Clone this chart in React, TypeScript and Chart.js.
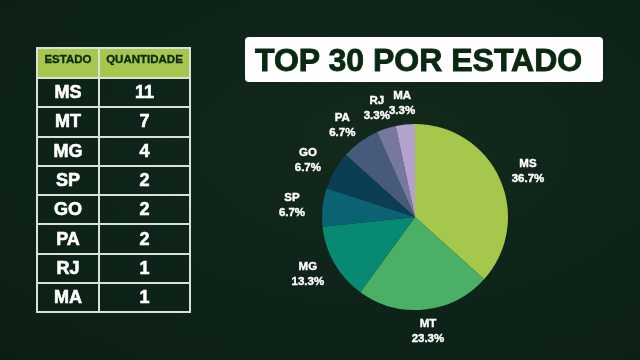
import React, { useEffect, useRef } from "react";
import { Chart, registerables } from "chart.js";

Chart.register(...registerables);

const titulo = "TOP 30 POR ESTADO";
const cabecalho = ["ESTADO", "QUANTIDADE"];
const estados = ["MS", "MT", "MG", "SP", "GO", "PA", "RJ", "MA"];
const quantidades = [11, 7, 4, 2, 2, 2, 1, 1];
const cores = ["#a5c84c", "#4baf65", "#088a72", "#0a6272", "#0b3e52", "#475a7c", "#76789e", "#b4a2ce"];

const FONT = "'Liberation Sans', Arial, Helvetica, sans-serif";

const labelPlugin = {
  id: "outerLabels",
  afterDatasetsDraw(chart: any) {
    const ctx = chart.ctx;
    const meta = chart.getDatasetMeta(0);
    const total = (chart.data.datasets[0].data as number[]).reduce((a, b) => a + b, 0);
    ctx.save();
    ctx.fillStyle = "#ffffff";
    ctx.strokeStyle = "#ffffff";
    ctx.lineWidth = 0.4;
    ctx.font = `bold 11.5px ${FONT}`;
    ctx.textAlign = "center";
    ctx.textBaseline = "middle";
    meta.data.forEach((arc: any, i: number) => {
      const p = arc.getProps(["x", "y", "startAngle", "endAngle", "outerRadius"], true);
      const mid = (p.startAngle + p.endAngle) / 2;
      const lx = p.x + Math.cos(mid) * p.outerRadius * 1.33;
      const ly = p.y + Math.sin(mid) * p.outerRadius * 1.23;
      const v = chart.data.datasets[0].data[i] as number;
      const pct = ((v / total) * 100).toFixed(1) + "%";
      const name = chart.data.labels[i];
      ctx.fillText(name, lx, ly - 7);
      ctx.strokeText(name, lx, ly - 7);
      ctx.fillText(pct, lx, ly + 8);
      ctx.strokeText(pct, lx, ly + 8);
    });
    ctx.restore();
  },
};

function PieChart() {
  const ref = useRef<HTMLCanvasElement>(null);
  useEffect(() => {
    if (!ref.current) return;
    const chart = new Chart(ref.current, {
      type: "pie",
      data: {
        labels: estados,
        datasets: [
          {
            data: quantidades,
            backgroundColor: cores,
            borderWidth: 0,
          },
        ],
      },
      options: {
        responsive: false,
        animation: false,
        layout: { padding: { top: 34, bottom: 34, left: 0, right: 0 } },
        plugins: {
          legend: { display: false },
          tooltip: { enabled: false },
        },
      },
      plugins: [labelPlugin],
    });
    return () => chart.destroy();
  }, []);
  return (
    <canvas
      ref={ref}
      width={400}
      height={254}
      style={{ position: "absolute", left: 215, top: 90, width: 400, height: 254 }}
    />
  );
}

export default function App() {
  const border = "2px solid #d9e2d9";
  const cell: React.CSSProperties = {
    border: border,
    color: "#ffffff",
    fontSize: 18,
    fontWeight: "bold",
    textAlign: "center",
    padding: 0,
    WebkitTextStroke: "0.6px #ffffff",
  };
  return (
    <div
      style={{
        position: "fixed",
        left: 0,
        top: 0,
        width: 640,
        height: 360,
        overflow: "hidden",
        background: "radial-gradient(ellipse at 60% 40%, #12291c 0%, #0e2317 60%, #0b1e13 100%)",
        fontFamily: FONT,
      }}
    >
      <table
        style={{
          position: "absolute",
          left: 36,
          top: 47,
          width: 155,
          borderCollapse: "collapse",
          border: border,
        }}
      >
        <thead>
          <tr style={{ height: 30, background: "#a7c64e" }}>
            {cabecalho.map((h, i) => (
              <th
                key={h}
                style={{
                  border: border,
                  color: "#0d2a12",
                  fontSize: 11.5,
                  lineHeight: "13px",
                  fontWeight: "bold",
                  verticalAlign: "top",
                  padding: "4px 0 0 0",
                  width: i === 0 ? 62 : 91,
                  textAlign: "center",
                  WebkitTextStroke: "0.35px #0d2a12",
                }}
              >
                {h}
              </th>
            ))}
          </tr>
        </thead>
        <tbody>
          {estados.map((e, i) => (
            <tr key={e} style={{ height: 29.3 }}>
              <td style={cell}>{e}</td>
              <td style={cell}>{quantidades[i]}</td>
            </tr>
          ))}
        </tbody>
      </table>
      <div
        style={{
          position: "absolute",
          left: 245,
          top: 37,
          width: 358,
          height: 45,
          background: "#ffffff",
          borderRadius: 4,
        }}
      >
        <div
          style={{
            position: "absolute",
            left: 10,
            top: 5,
            fontSize: 32,
            lineHeight: "36px",
            fontWeight: 900,
            color: "#0b2812",
            WebkitTextStroke: "0.9px #0b2812",
            whiteSpace: "nowrap",
          }}
        >
          {titulo}
        </div>
      </div>
      <PieChart />
    </div>
  );
}
